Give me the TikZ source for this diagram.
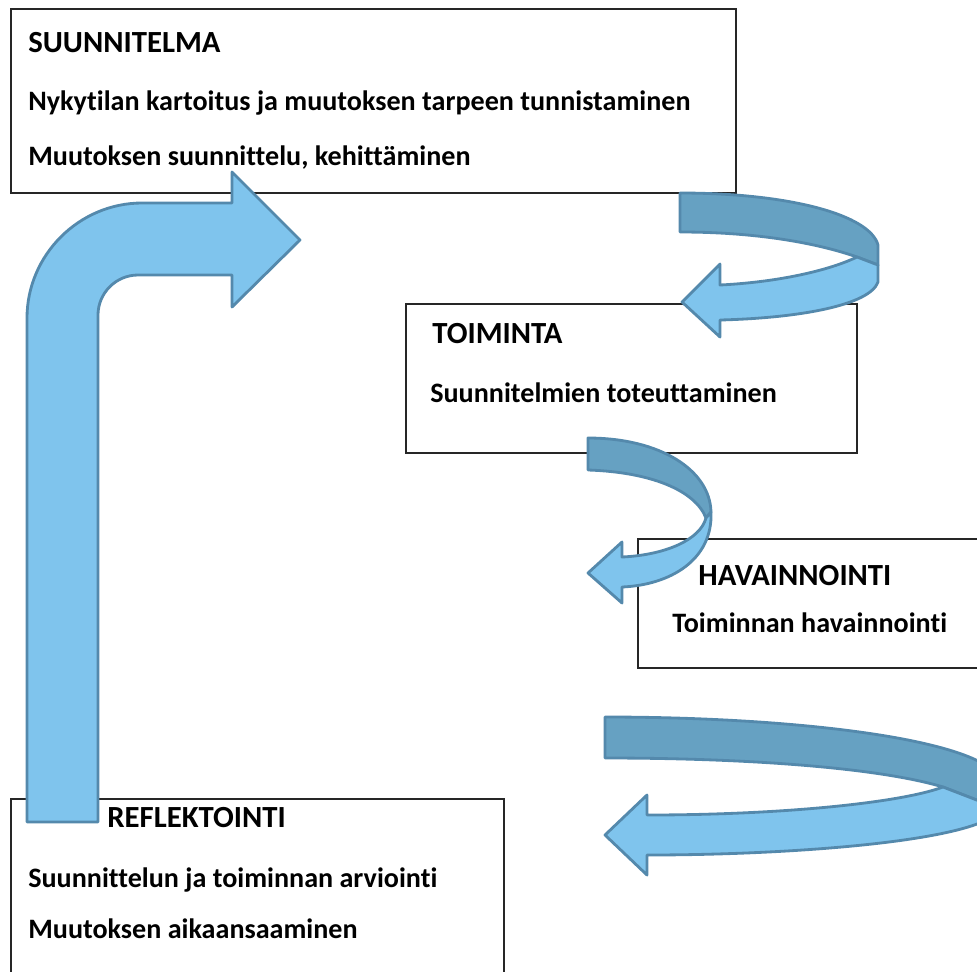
\documentclass[tikz,border=0pt]{standalone}
\usepackage{fontspec}
\setmainfont{Carlito}[Ligatures=NoCommon]
\definecolor{bandlight}{RGB}{127,196,237}
\definecolor{banddark}{RGB}{102,161,194}
\definecolor{bandedge}{RGB}{84,137,172}
\tikzset{
  box/.style={draw=black!85, line width=1.2pt, fill=white, anchor=north west, inner sep=0pt},
  txt/.style={anchor=base west, inner sep=0pt, font=\bfseries\fontsize{16}{19}\selectfont},
  title/.style={txt, font=\bfseries\fontsize{17.5}{21}\selectfont},
  light/.style={fill=bandlight, draw=bandedge, line width=1.6pt, line join=round},
  dark/.style={fill=banddark, draw=bandedge, line width=1.6pt, line join=round},
}
\begin{document}
\begin{tikzpicture}[x=0.02cm, y=-0.02cm]
\useasboundingbox (0,0) rectangle (977,971);
\clip (0,0) rectangle (977,971);

\node[box, minimum width=14.5cm, minimum height=3.68cm] (plan) at (10,8) {};
\node[title] (planT) at (28,52) {SUUNNITELMA};
\node[txt] (planA) at (28,110) {Nykytilan kartoitus ja muutoksen tarpeen tunnistaminen};
\node[txt] (planB) at (28,165) {Muutoksen suunnittelu, kehittäminen};

\node[box, minimum width=9.02cm, minimum height=2.98cm] (act) at (405,303) {};
\node[title] (actT) at (432,343) {TOIMINTA};
\node[txt] (actA) at (430,402) {Suunnitelmien toteuttaminen};

\node[box, minimum width=7.4cm, minimum height=2.58cm] (obs) at (637,538) {};
\node[title] (obsT) at (698,585) {HAVAINNOINTI};
\node[txt] (obsA) at (672,632) {Toiminnan havainnointi};

\node[box, minimum width=9.86cm, minimum height=4.2cm] (refl) at (10,798) {};
\node[title] (reflT) at (107,827) {REFLEKTOINTI};
\node[txt] (reflA) at (28,887) {Suunnittelun ja toiminnan arviointi};
\node[txt] (reflB) at (28,938) {Muutoksen aikaansaaminen};

\draw[light] (27,822) -- (27,318) .. controls (27,255) and (79,203) .. (142,203) -- (232,203) -- (232,172) -- (300,240)
  -- (232,307) -- (232,275) -- (138,275) .. controls (116,275) and (98,293) .. (98,315) -- (98,822) -- cycle;

\draw[dark] (680,193) .. controls (790,193) and (870,215) .. (878,245) -- (878,265) -- (857,257)
  .. controls (820,244) and (760,232) .. (680,232) -- cycle;
\draw[light] (857,257) -- (878,265) -- (878,282) .. controls (870,305) and (800,318) .. (720,320) -- (720,337)
  -- (682,302) -- (720,264) -- (720,285) .. controls (780,282) and (830,270) .. (857,257) -- cycle;

\draw[dark] (588,438) .. controls (660,438) and (710,470) .. (711,512) -- (706,518)
  .. controls (695,490) and (650,472) .. (588,470) -- cycle;
\draw[light] (706,518) -- (711,512) .. controls (713,560) and (670,585) .. (622,587) -- (622,603)
  -- (588,573) -- (622,542) -- (622,557) .. controls (665,555) and (700,540) .. (706,518) -- cycle;

\draw[dark] (605,717) .. controls (800,717) and (985,740) .. (1000,780) -- (1000,809) -- (943,787)
  .. controls (880,768) and (750,758) .. (605,758) -- cycle;
\draw[light] (943,787) -- (1000,809) .. controls (985,840) and (800,855) .. (647,855) -- (647,875)
  -- (605,835) -- (647,795) -- (647,815) .. controls (780,815) and (900,803) .. (943,787) -- cycle;
\end{tikzpicture}
\end{document}
